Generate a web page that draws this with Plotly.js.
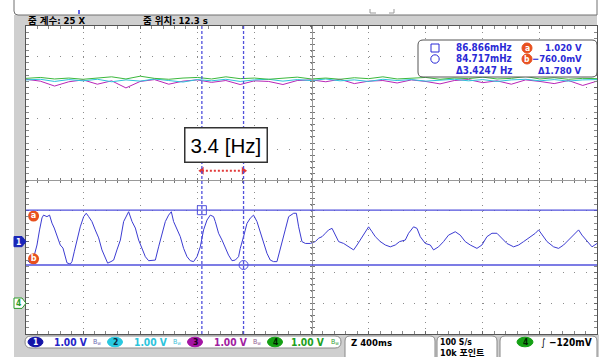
<!DOCTYPE html>
<html>
<head>
<meta charset="utf-8">
<script src="https://cdn.plot.ly/plotly-3.0.1.min.js"></script>
<style>
  html, body { margin: 0; padding: 0; background: #fff; overflow: hidden; }
  #scope { width: 599px; height: 357px; }
</style>
</head>
<body>
<div id="scope"></div>
<script>
// ---- acquisition settings -------------------------------------------------
const timeCenter = 12.28;      // s, centre of the zoom window
const timePerDiv = 0.4;        // Z 400 ms / div
const voltsPerDiv = 1.0;       // all channels 1.00 V / div
const ch1Position = -2;        // divisions from screen centre
const ch4Position = -4;
const upperTracesPosition = 3.25;

// ---- cursor readouts ------------------------------------------------------
const cursorFreqA = 0.086866;  // Hz  (cursor time = 1 / f)
const cursorFreqB = 0.084717;
const cursorDeltaFreq = 3.4247; // Hz, 1 / (tB - tA) as reported
const cursorVoltA = 1.020;     // V
const cursorVoltB = -0.760;
const triggerLevelMv = -120;   // mV
const zoomFactor = 25;
const zoomPosition = 12.3;
const sampleRate = 100;
const recordLength = '10k';

// ---- channel 1 waveform (s, V) -------------------------------------------
const ch1Time = [10.287,10.310,10.333,10.357,10.375,10.392,10.403,10.427,10.445,10.462,10.478,10.497,10.520,10.539,10.555,10.567,10.590,10.602,10.618,10.637,10.660,10.684,10.702,10.719,10.742,10.765,10.789,10.812,10.836,10.852,10.875,10.894,10.917,10.941,10.964,10.999,11.023,11.046,11.069,11.093,11.116,11.139,11.163,11.186,11.209,11.233,11.256,11.279,11.298,11.314,11.338,11.361,11.384,11.408,11.431,11.454,11.478,11.501,11.524,11.548,11.571,11.594,11.606,11.629,11.653,11.676,11.699,11.723,11.746,11.769,11.781,11.804,11.828,11.851,11.874,11.898,11.921,11.944,11.968,11.991,12.014,12.038,12.061,12.096,12.120,12.155,12.174,12.190,12.213,12.237,12.272,12.307,12.330,12.354,12.377,12.400,12.424,12.447,12.470,12.505,12.540,12.575,12.599,12.622,12.657,12.680,12.704,12.727,12.762,12.797,12.832,12.867,12.897,12.937,12.960,12.995,13.019,13.042,13.077,13.112,13.135,13.170,13.205,13.240,13.287,13.322,13.357,13.392,13.439,13.474,13.509,13.544,13.579,13.614,13.649,13.696,13.731,13.766,13.813,13.848,13.871,13.895,13.930,13.976,14.011,14.046,14.093,14.128,14.151,14.175,14.210,14.245,14.280];
const ch1Volts = [-0.60,-0.70,-0.53,-0.11,0.38,0.77,0.86,0.81,0.86,0.60,0.44,0.16,-0.11,-0.21,-0.53,-0.69,-0.73,-0.65,-0.33,0.05,0.48,0.81,0.92,0.81,0.65,0.38,0.12,-0.27,-0.53,-0.70,-0.65,-0.60,-0.27,0.05,0.65,0.97,0.65,0.44,0.05,-0.21,-0.49,-0.62,-0.62,-0.60,-0.17,0.27,0.65,0.86,0.97,0.65,0.38,0.16,-0.22,-0.49,-0.62,-0.65,-0.49,-0.17,0.38,0.70,0.86,0.81,0.65,0.27,0.05,-0.22,-0.44,-0.62,-0.60,-0.49,-0.22,0.16,0.59,0.76,0.86,0.65,0.32,-0.06,-0.38,-0.60,-0.65,-0.65,-0.27,0.38,0.81,0.92,0.92,0.48,0.00,-0.06,-0.06,0.00,0.11,0.16,0.27,0.38,0.43,0.21,0.00,-0.06,-0.17,-0.27,-0.11,0.05,0.32,0.48,0.32,0.16,0.00,-0.11,-0.17,-0.11,0.00,0.05,0.27,0.48,0.43,0.16,-0.06,-0.11,-0.27,-0.17,0.00,0.21,0.32,0.21,0.00,-0.11,-0.22,-0.11,0.16,0.27,0.27,0.11,-0.06,-0.17,-0.11,0.00,0.16,0.27,0.38,0.21,0.00,-0.17,-0.22,-0.11,0.11,0.27,0.38,0.21,0.00,-0.17,-0.06];

// ---- channels 2, 3, 4 (noise around their screen position, V) ----------
const upperTime = [10.28,10.38,10.48,10.58,10.68,10.78,10.88,10.98,11.08,11.18,11.28,11.38,11.48,11.58,11.68,11.78,11.88,11.98,12.08,12.18,12.28,12.38,12.48,12.58,12.68,12.78,12.88,12.98,13.08,13.18,13.28,13.38,13.48,13.58,13.68,13.78,13.88,13.98,14.08,14.18,14.28];
const ch2Volts = [0.00,0.02,-0.05,0.01,-0.03,0.02,-0.06,0.00,-0.04,0.03,-0.02,-0.07,0.01,-0.03,0.02,-0.05,0.00,0.02,-0.04,0.01,-0.02,0.03,-0.03,0.00,-0.05,0.02,-0.02,0.01,-0.04,0.00,0.02,-0.03,0.01,-0.05,0.00,0.02,-0.03,0.01,-0.04,0.00,0.01];
const ch3Volts = [0.02,-0.04,-0.20,-0.06,0.00,-0.14,-0.03,-0.26,-0.05,0.01,-0.14,-0.04,0.00,-0.08,-0.02,-0.15,-0.03,-0.05,-0.15,-0.02,0.00,-0.06,0.02,-0.12,-0.04,-0.02,-0.10,0.00,-0.05,-0.13,-0.02,0.01,-0.09,-0.03,-0.14,0.00,-0.05,-0.12,-0.02,-0.18,-0.04];
const ch4Volts = [0.05,0.08,0.03,0.06,0.02,0.07,0.10,0.03,0.12,0.05,0.02,0.06,0.08,0.03,0.10,0.04,0.06,0.02,0.05,0.09,0.03,0.06,0.02,0.07,0.04,0.10,0.03,0.05,0.08,0.02,0.06,0.04,0.09,0.03,0.05,0.11,0.03,0.07,0.02,0.05,0.04];

// ---- colours / fonts ------------------------------------------------------
const C = {
  ch1: '#3c3cd2', ch2: '#2cc4dc', ch3: '#b826b8', ch4: '#3cb83c',
  cursor: '#5050dc', readout: '#2a2ad6', orange: '#e8501e', arrow: '#e23a3a',
  chrome: '#cfcfcf', frame: '#707070', grid: '#8c8c8c'
};
const UI = "'DejaVu Sans Condensed', 'Noto Sans CJK KR', sans-serif";
const CALLOUT = "'Liberation Sans', Arial, sans-serif";

// ---- screen geometry (pixels) --------------------------------------------
const W = 599, H = 357, ML = 26, MR = 2, MT = 26, MB = 23;
const plotW = W - ML - MR, plotH = H - MT - MB;
const PX = p => (p - ML) / plotW;
const PY = p => (H - MB - p) / plotH;

const t0 = timeCenter - 5 * timePerDiv;
const t1 = timeCenter + 5 * timePerDiv;
const tA = 1 / cursorFreqA;
const tB = 1 / cursorFreqB;
const yA = ch1Position + cursorVoltA / voltsPerDiv;
const yB = ch1Position + cursorVoltB / voltsPerDiv;

function roundRect(x0, y0, x1, y1, r) {
  return `M${PX(x0 + r)},${PY(y0)} L${PX(x1 - r)},${PY(y0)} Q${PX(x1)},${PY(y0)} ${PX(x1)},${PY(y0 + r)} ` +
         `L${PX(x1)},${PY(y1 - r)} Q${PX(x1)},${PY(y1)} ${PX(x1 - r)},${PY(y1)} ` +
         `L${PX(x0 + r)},${PY(y1)} Q${PX(x0)},${PY(y1)} ${PX(x0)},${PY(y1 - r)} ` +
         `L${PX(x0)},${PY(y0 + r)} Q${PX(x0)},${PY(y0)} ${PX(x0 + r)},${PY(y0)} Z`;
}
const paperShape = (o) => Object.assign({ xref: 'paper', yref: 'paper', layer: 'above' }, o);
function ellipse(cx, cy, rx, ry, fill, line) {
  return paperShape({ type: 'circle', x0: PX(cx - rx), x1: PX(cx + rx), y0: PY(cy + ry), y1: PY(cy - ry),
                      fillcolor: fill, line: { color: line || fill, width: 1 } });
}
function label(x, y, text, color, size, anchor, extra) {
  return Object.assign({ xref: 'paper', yref: 'paper', x: PX(x), y: PY(y), text: text, showarrow: false,
    xanchor: anchor || 'left', yanchor: 'middle', borderpad: 0,
    font: { family: UI, size: size || 10, color: color || '#000' } }, extra || {});
}
const fmtV = (v) => (Math.abs(v) < 1 ? (v * 1000).toFixed(1) + 'mV' : v.toFixed(3) + ' V').replace('-', '\u2212');

// ---- traces ---------------------------------------------------------------
const shift = (arr, pos) => arr.map(v => pos + v / voltsPerDiv);
const traces = [
  { x: upperTime, y: shift(ch3Volts, upperTracesPosition), mode: 'lines', line: { color: C.ch3, width: 1 }, hoverinfo: 'skip' },
  { x: upperTime, y: shift(ch2Volts, upperTracesPosition), mode: 'lines', line: { color: C.ch2, width: 1 }, hoverinfo: 'skip' },
  { x: upperTime, y: shift(ch4Volts, upperTracesPosition), mode: 'lines', line: { color: C.ch4, width: 1 }, hoverinfo: 'skip' },
  { x: ch1Time, y: shift(ch1Volts, ch1Position), mode: 'lines', line: { color: C.ch1, width: 1 }, hoverinfo: 'skip' },
  // cursor intersection markers
  { x: [tA, tB], y: [yA, yB], mode: 'markers', hoverinfo: 'skip',
    marker: { symbol: ['square-open', 'circle-open'], size: 9, color: C.cursor, line: { width: 1 } } },
  // period span between the two cursors
  { x: [tA, tB], y: [0.3, 0.3], mode: 'lines+markers', hoverinfo: 'skip',
    line: { color: C.arrow, width: 2, dash: '2px,2px' },
    marker: { symbol: ['triangle-left', 'triangle-right'], size: 7, color: C.arrow } },
  // cursor tags a / b on the left edge
  { x: [t0 + 0.053, t0 + 0.053], y: [yA - 0.19, yB + 0.2], mode: 'markers+text', hoverinfo: 'skip',
    marker: { symbol: 'circle', size: 11, color: C.orange }, text: ['<b>a</b>', '<b>b</b>'], textposition: 'middle center',
    textfont: { family: UI, size: 9, color: '#fff' } },
  // centre cross tick axes
  { x: [], y: [], xaxis: 'x2', yaxis: 'y' },
  { x: [], y: [], xaxis: 'x3', yaxis: 'y' },
  { x: [], y: [], xaxis: 'x', yaxis: 'y2' },
  { x: [], y: [], xaxis: 'x', yaxis: 'y3' }
];

// ---- chrome shapes --------------------------------------------------------
const shapes = [
  // grey frame: left strip, zoom title bar, bottom status area
  paperShape({ type: 'rect', x0: PX(14), x1: PX(25.6), y0: PY(357), y1: PY(15), fillcolor: C.chrome, line: { width: 0 }, layer: 'below' }),
  paperShape({ type: 'rect', x0: PX(14), x1: PX(597), y0: PY(25.6), y1: PY(15), fillcolor: C.chrome, line: { width: 0 }, layer: 'below' }),
  paperShape({ type: 'rect', x0: PX(14), x1: PX(599), y0: PY(357), y1: PY(334.4), fillcolor: C.chrome, line: { width: 0 }, layer: 'below' }),
  paperShape({ type: 'path', path: `M${PX(14)},${PY(0)} L${PX(14)},${PY(11)} Q${PX(14)},${PY(15)} ${PX(18)},${PY(15)} L${PX(597)},${PY(15)} L${PX(597)},${PY(0)}`,
               line: { color: C.frame, width: 1 } }),
  paperShape({ type: 'line', x0: PX(79), x1: PX(79), y0: PY(14), y1: PY(10), line: { color: '#3030e0', width: 1.5 } }),
  paperShape({ type: 'path', path: `M${PX(370)},${PY(9)} L${PX(370)},${PY(13)} L${PX(376)},${PY(13)} M${PX(389)},${PY(13)} L${PX(394)},${PY(13)} L${PX(394)},${PY(9)}`,
               line: { color: '#999', width: 1 } }),
  // cursors
  { type: 'line', xref: 'x', yref: 'paper', x0: tA, x1: tA, y0: 0, y1: 1, line: { color: C.cursor, width: 1.3, dash: '3px,2px' } },
  { type: 'line', xref: 'x', yref: 'paper', x0: tB, x1: tB, y0: 0, y1: 1, line: { color: C.cursor, width: 1.3, dash: '3px,2px' } },
  { type: 'line', xref: 'paper', yref: 'y', x0: 0, x1: 1, y0: yA, y1: yA, line: { color: C.cursor, width: 1.3 } },
  { type: 'line', xref: 'paper', yref: 'y', x0: 0, x1: 1, y0: yB, y1: yB, line: { color: C.cursor, width: 1.3 } },
  // channel ground markers
  paperShape({ type: 'path', path: `M${PX(14)},${PY(236.5)} L${PX(22)},${PY(236.5)} L${PX(26)},${PY(241.6)} L${PX(22)},${PY(246.7)} L${PX(14)},${PY(246.7)} Z`,
               fillcolor: '#1a26b8', line: { color: '#1a26b8', width: 1 } }),
  paperShape({ type: 'path', path: `M${PX(14)},${PY(298)} L${PX(22)},${PY(298)} L${PX(26)},${PY(303.2)} L${PX(22)},${PY(308.4)} L${PX(14)},${PY(308.4)} Z`,
               fillcolor: '#fff', line: { color: '#2a9a2a', width: 1 } }),
  // cursor readout panel
  paperShape({ type: 'path', path: roundRect(418, 40, 597, 77, 5), fillcolor: '#fff', line: { color: '#555', width: 1 } }),
  paperShape({ type: 'rect', x0: PX(431), x1: PX(439), y0: PY(52), y1: PY(44), line: { color: C.readout, width: 1 } }),
  ellipse(435, 59, 4.2, 4.2, 'rgba(0,0,0,0)', C.readout),
  ellipse(527, 48, 5, 5, C.orange),
  ellipse(527, 59, 5, 5, C.orange),
  // status bar boxes
  paperShape({ type: 'path', path: roundRect(25, 336, 341, 348, 6), fillcolor: '#fff', line: { color: '#888', width: 1 } }),
  paperShape({ type: 'path', path: roundRect(345, 336, 435, 364, 5), fillcolor: '#fff', line: { color: '#888', width: 1 } }),
  paperShape({ type: 'path', path: roundRect(437, 336, 497, 364, 5), fillcolor: '#fff', line: { color: '#888', width: 1 } }),
  paperShape({ type: 'path', path: roundRect(500, 336, 597, 364, 5), fillcolor: '#fff', line: { color: '#888', width: 1 } }),
  ellipse(35.5, 342, 7.5, 4.8, '#1414a8'),
  ellipse(115, 342, 7.5, 4.8, '#28c8e0'),
  ellipse(195, 342, 7.5, 4.8, '#a414a4'),
  ellipse(275, 342, 7.5, 4.8, '#14a014'),
  ellipse(525, 342, 8, 4.8, '#14a014')
];

// ---- text -------------------------------------------------------------------
const annotations = [
  label(27, 20, `<b>줌 계수: ${zoomFactor} X</b>`, '#000', 9.5),
  label(142, 20, `<b>줌 위치: ${zoomPosition.toFixed(1)} s</b>`, '#000', 9.5),
  label(18.5, 241.6, '<b>1</b>', '#fff', 8.5, 'center'),
  label(18.5, 303.2, '<b>4</b>', '#2a9a2a', 8.5, 'center'),
  // readout panel
  label(513, 48, `<b>${(cursorFreqA * 1000).toFixed(3)}mHz</b>`, C.readout, 9.8, 'right'),
  label(513, 59, `<b>${(cursorFreqB * 1000).toFixed(3)}mHz</b>`, C.readout, 9.8, 'right'),
  label(513, 70, `<b>\u0394${cursorDeltaFreq.toFixed(4)} Hz</b>`, C.readout, 9.8, 'right'),
  label(583, 48, `<b>${fmtV(cursorVoltA)}</b>`, C.readout, 9.5, 'right'),
  label(583, 59, `<b>${fmtV(cursorVoltB)}</b>`, C.readout, 9.5, 'right'),
  label(583, 70, `<b>\u0394${(cursorVoltA - cursorVoltB).toFixed(3)} V</b>`, C.readout, 9.5, 'right'),
  label(527, 48, '<b>a</b>', '#fff', 8.5, 'center'),
  label(527, 59, '<b>b</b>', '#fff', 8.5, 'center'),
  // measured frequency callout
  { xref: 'x', yref: 'y', x: (tA + tB) / 2 + 0.025, y: 1.14, text: `${cursorDeltaFreq.toFixed(1)} [Hz]`, showarrow: false,
    font: { family: CALLOUT, size: 20.5, color: '#000' }, bgcolor: '#fff', bordercolor: '#333', borderwidth: 1.5, borderpad: 5 },
  // status bar
  label(35.5, 342, '<b>1</b>', '#fff', 8.5, 'center'),
  label(115, 342, '<b>2</b>', '#0a2a40', 8.5, 'center'),
  label(195, 342, '<b>3</b>', '#200020', 8.5, 'center'),
  label(275, 342, '<b>4</b>', '#002000', 8.5, 'center'),
  label(53, 342, `<b>${voltsPerDiv.toFixed(2)} V</b>`, '#2424c8', 10.2),
  label(133, 342, `<b>${voltsPerDiv.toFixed(2)} V</b>`, '#2cc4dc', 10.2),
  label(213, 342, `<b>${voltsPerDiv.toFixed(2)} V</b>`, '#a020a0', 10.2),
  label(290, 342, `<b>${voltsPerDiv.toFixed(2)} V</b>`, '#20a020', 10.2),
  label(97, 342, 'B<sub>w</sub>', '#6a6ab0', 7, 'center'),
  label(177, 342, 'B<sub>w</sub>', '#40c0d8', 7, 'center'),
  label(257, 342, 'B<sub>w</sub>', '#906090', 7, 'center'),
  label(335, 342, 'B<sub>w</sub>', '#30a030', 7, 'center'),
  label(350, 342, `<b>Z ${Math.round(timePerDiv * 1000)}ms</b>`, '#000', 9.5),
  label(439, 342, `<b>${sampleRate} S/s</b>`, '#000', 8.6),
  label(439, 352.5, `<b>${recordLength} 포인트</b>`, '#000', 9),
  label(525, 342, '<b>4</b>', '#002000', 8.5, 'center'),
  label(543, 342, '<i>\u222B</i>', '#000', 10, 'center'),
  label(593, 342, `<b>${String(triggerLevelMv).replace('-', '\u2212')}mV</b>`, '#000', 10, 'right')
];

// ---- axes -----------------------------------------------------------------
const baseX = { range: [t0, t1], showticklabels: false, zeroline: false, fixedrange: true, showgrid: false };
const baseY = { range: [-5, 5], showticklabels: false, zeroline: false, fixedrange: true, showgrid: false };
const layout = {
  width: W, height: H,
  margin: { l: ML, r: MR, t: MT, b: MB, pad: 0 },
  paper_bgcolor: '#fff', plot_bgcolor: '#fff',
  showlegend: false,
  xaxis: Object.assign({}, baseX, {
    tick0: t0, dtick: timePerDiv, showgrid: true, gridcolor: C.grid, gridwidth: 1, griddash: '1px,5.16px',
    ticks: 'inside', ticklen: 3, tickcolor: '#666', showline: true, mirror: 'allticks', linecolor: '#555', linewidth: 1,
    minor: { tick0: t0, dtick: timePerDiv / 5, ticks: 'inside', ticklen: 2, tickcolor: '#888', showgrid: false }
  }),
  yaxis: Object.assign({}, baseY, {
    tick0: -5, dtick: 1, showgrid: true, gridcolor: C.grid, gridwidth: 1, griddash: '1px,10.42px',
    ticks: 'inside', ticklen: 3, tickcolor: '#666', showline: true, mirror: 'allticks', linecolor: '#555', linewidth: 1,
    minor: { tick0: -5, dtick: 0.2, ticks: 'inside', ticklen: 2, tickcolor: '#888', showgrid: false }
  }),
  xaxis2: Object.assign({}, baseX, { overlaying: 'x', anchor: 'free', position: 0.5, tick0: t0, dtick: timePerDiv / 5,
    ticks: 'outside', ticklen: 2, tickcolor: '#777', showline: true, linecolor: '#999', linewidth: 1 }),
  xaxis3: Object.assign({}, baseX, { overlaying: 'x', anchor: 'free', position: 0.5, tick0: t0, dtick: timePerDiv / 5,
    ticks: 'inside', ticklen: 2, tickcolor: '#777', showline: false }),
  yaxis2: Object.assign({}, baseY, { overlaying: 'y', anchor: 'free', position: 0.5, tick0: -5, dtick: 0.2,
    ticks: 'outside', ticklen: 2, tickcolor: '#777', showline: true, linecolor: '#999', linewidth: 1 }),
  yaxis3: Object.assign({}, baseY, { overlaying: 'y', anchor: 'free', position: 0.5, tick0: -5, dtick: 0.2,
    ticks: 'inside', ticklen: 2, tickcolor: '#777', showline: false }),
  shapes: shapes,
  annotations: annotations
};

Plotly.newPlot('scope', traces, layout, { staticPlot: true, displayModeBar: false });
</script>
</body>
</html>
